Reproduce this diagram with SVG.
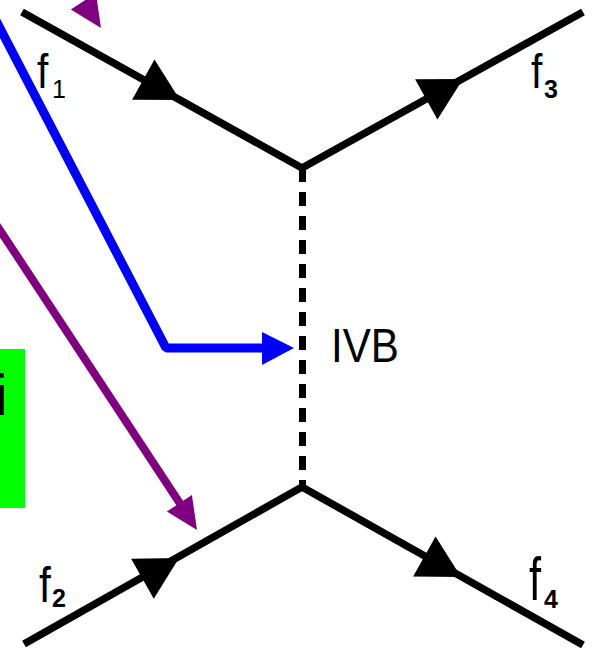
<svg xmlns="http://www.w3.org/2000/svg" xmlns:xlink="http://www.w3.org/1999/xlink" width="593" height="652" viewBox="0 0 593 652">
<style>
.fl{fill:none;stroke:#000;stroke-width:7.5;stroke-linecap:butt;stroke-linejoin:miter}
.dash{fill:none;stroke:#000;stroke-width:7;stroke-dasharray:14 10}
.blue{fill:none;stroke:#0000FF;stroke-width:9;stroke-linejoin:bevel}
.purple{fill:none;stroke:#800080;stroke-width:8}
.lab{font-family:"Liberation Sans",Arial,sans-serif;fill:#000}
.sub{font-family:"Liberation Sans",Arial,sans-serif;fill:#000;font-weight:bold;font-size:25px}
</style>
<defs>
<path id="ah" d="M0,0 L-42,-23 L-42,23 Z"/>
<path id="ahp" d="M0,0 L-32,-15 L-32,15 Z"/>
</defs>
<rect width="593" height="652" fill="#fff"/>
<g id="note">
<rect x="-2" y="349" width="27" height="159" fill="#00FF00"/>
<text class="lab" x="-5" y="415" font-size="58">i</text>
</g>
<g id="connectors">
<polyline class="fl" points="22,12 302,168 583,12"/>
<polyline class="fl" points="24,644 302,487 583,645"/>
<line class="dash" x1="302.5" y1="168" x2="302.5" y2="487"/>
<use xlink:href="#ah" href="#ah" transform="translate(180,100) rotate(29.1)"/>
<use xlink:href="#ah" href="#ah" transform="translate(463,79) rotate(-29)"/>
<use xlink:href="#ah" href="#ah" transform="translate(179,558) rotate(-29.5)"/>
<use xlink:href="#ah" href="#ah" transform="translate(461,577) rotate(29.3)"/>
<polyline class="blue" points="-10,9 166,348 264,348"/>
<polygon points="262,332 294,348 262,365" fill="#0000FF"/>
<line class="purple" x1="-10" y1="215" x2="181" y2="505"/>
<use xlink:href="#ahp" href="#ahp" fill="#800080" transform="translate(197,530) rotate(56.6)"/>
<use xlink:href="#ahp" href="#ahp" fill="#800080" transform="translate(101,28) rotate(56.6)"/>
</g>
<g id="f1">
<text class="lab" transform="translate(37,88) scale(0.85,1)" font-size="48">f</text>
<text class="lab" x="52" y="98" font-size="25">1</text>
</g>
<g id="f3">
<text class="lab" transform="translate(531,88) scale(0.85,1)" font-size="48">f</text>
<text class="sub" x="544" y="98">3</text>
</g>
<g id="f2">
<text class="lab" transform="translate(39,602) scale(0.85,1)" font-size="50">f</text>
<text class="sub" x="52" y="607" font-size="22">2</text>
</g>
<g id="f4">
<text class="lab" transform="translate(529,600) scale(0.7,1)" font-size="62">f</text>
<text class="sub" x="544" y="608">4</text>
</g>
<g id="ivb">
<text class="lab" transform="translate(331,362) scale(0.86,1)" font-size="49">IVB</text>
</g>
</svg>
